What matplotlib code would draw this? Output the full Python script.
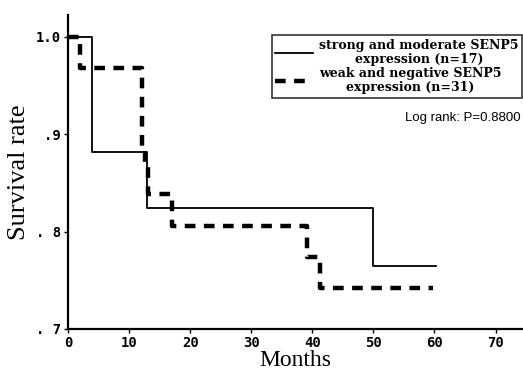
import matplotlib
matplotlib.use("Agg")
import matplotlib.pyplot as plt

# Kaplan-Meier step data (months, survival)
strong_months = [0, 3.9, 12.9, 50.0, 60.3]
strong_surv = [1.0, 0.882, 0.824, 0.765, 0.765]

weak_months = [0, 2.0, 12.1, 12.6, 13.1, 17.1, 39.2, 41.2, 59.7]
weak_surv = [1.0, 0.968, 0.884, 0.871, 0.839, 0.806, 0.774, 0.742, 0.742]

x_ticks = [0, 10, 20, 30, 40, 50, 60, 70]
y_ticks = [0.7, 0.8, 0.9, 1.0]
y_tick_labels = [". 7", ". 8", ".9", "1.0"]

strong_label = "strong and moderate SENP5\nexpression (n=17)"
weak_label = "weak and negative SENP5\nexpression (n=31)"

fig = plt.figure(figsize=(5.23, 3.75), dpi=100)
ax = fig.add_axes([0.130, 0.1227, 0.870, 0.8373])

ax.step(strong_months, strong_surv, where="post", color="black", lw=1.3,
        label=strong_label)
ax.step(weak_months, weak_surv, where="post", color="black", lw=3.2,
        linestyle=(0, (2.4, 1.9)), dash_capstyle="butt", label=weak_label)

ax.set_xlim(0, 74.5)
ax.set_ylim(0.7, 1.0225)
ax.set_xticks(x_ticks)
ax.set_yticks(y_ticks)
ax.set_yticklabels(y_tick_labels)

for lab in ax.get_xticklabels() + ax.get_yticklabels():
    lab.set_family("DejaVu Sans Mono")
    lab.set_fontweight("bold")
    lab.set_fontsize(10)

ax.tick_params(axis="both", direction="out", length=3, width=1, pad=2)
for side in ["top", "right"]:
    ax.spines[side].set_visible(False)
for side in ["left", "bottom"]:
    ax.spines[side].set_linewidth(1.6)

ax.set_xlabel("Months", family="Liberation Serif", fontsize=17, labelpad=0)
ax.set_ylabel("Survival rate", family="Liberation Serif", fontsize=19, labelpad=4)

leg = ax.legend(loc="upper right", bbox_to_anchor=(1.0, 0.938),
                prop={"family": "DejaVu Serif", "weight": "bold", "size": 9},
                frameon=True, fancybox=False, edgecolor="black",
                handlelength=3.0, handletextpad=0.5, labelspacing=0.1,
                borderpad=0.3, borderaxespad=0.05)
leg.get_frame().set_linewidth(1.2)
for t in leg.get_texts():
    t.set_multialignment("center")
    t.set_linespacing(1.1)

ax.text(0.995, 0.672, "Log rank: P=0.8800", transform=ax.transAxes,
        ha="right", va="center", family="Liberation Sans", fontsize=9.5)

fig.savefig("out.png", dpi=100)
